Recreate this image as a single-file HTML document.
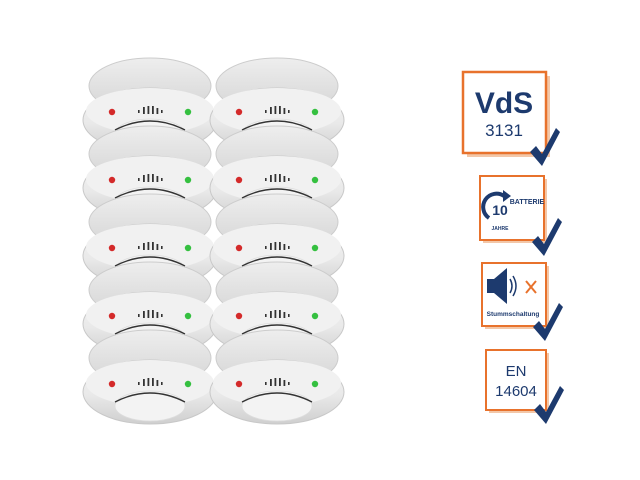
<!DOCTYPE html>
<html><head><meta charset="utf-8"><style>
html,body{margin:0;padding:0;background:#fff;}
svg{display:block}
</style></head><body>
<svg width="640" height="480" viewBox="0 0 640 480" xmlns="http://www.w3.org/2000/svg">
<defs>
<linearGradient id="body" x1="0" y1="0" x2="0" y2="1">
<stop offset="0" stop-color="#f4f4f4"/><stop offset="0.55" stop-color="#e9e9e9"/><stop offset="1" stop-color="#cfcfcf"/>
</linearGradient>
<linearGradient id="cap" x1="0" y1="0" x2="0" y2="1">
<stop offset="0" stop-color="#eeeeee"/><stop offset="1" stop-color="#d4d4d4"/>
</linearGradient>
<g id="det">
<ellipse cx="0" cy="-26" rx="61" ry="28" fill="url(#cap)" stroke="#cccccc" stroke-width="1"/>
<ellipse cx="0" cy="8" rx="67" ry="32" fill="url(#body)" stroke="#c8c8c8" stroke-width="1"/>
<ellipse cx="0" cy="-1" rx="64" ry="23" fill="#f1f1f1"/>
<ellipse cx="0" cy="22" rx="35" ry="15" fill="#f3f3f3" stroke="#dddddd" stroke-width="0.8"/>
<path d="M-35 18 Q0 0 35 18" fill="none" stroke="#333" stroke-width="1.4"/>
<circle cx="-38" cy="0" r="3.2" fill="#d42a2a"/>
<circle cx="38" cy="0" r="3.2" fill="#35c040"/>
<g fill="#333">
<rect x="-12" y="-2" width="1.6" height="3"/><rect x="-7" y="-5" width="1.8" height="7"/>
<rect x="-2.5" y="-6" width="1.8" height="8"/><rect x="2" y="-6" width="1.8" height="8"/>
<rect x="6.5" y="-4" width="1.8" height="6"/><rect x="11" y="-2" width="1.6" height="3"/>
</g>
</g>
<path id="chk" d="M0 0 L6 -6 L12 2 L26 -24 L30 -20 L12 14 Z" fill="#1d3a6e"/>
</defs>

<use href="#det" x="150" y="112"/><use href="#det" x="277" y="112"/>
<use href="#det" x="150" y="180"/><use href="#det" x="277" y="180"/>
<use href="#det" x="150" y="248"/><use href="#det" x="277" y="248"/>
<use href="#det" x="150" y="316"/><use href="#det" x="277" y="316"/>
<use href="#det" x="150" y="384"/><use href="#det" x="277" y="384"/>

<!-- badge 1 -->
<rect x="467" y="76" width="83" height="81" fill="#f3c7a8"/>
<rect x="463" y="72" width="83" height="81" fill="#fff" stroke="#e8722c" stroke-width="2.5"/>
<text x="504" y="113" text-anchor="middle" font-family="Liberation Sans,sans-serif" font-weight="bold" font-size="30" fill="#1d3a6e">VdS</text>
<text x="504" y="136" text-anchor="middle" font-family="Liberation Sans,sans-serif" font-size="17" fill="#1d3a6e">3131</text>
<use href="#chk" x="530" y="152"/>

<!-- badge 2 -->
<rect x="483" y="179" width="64" height="64" fill="#f3c7a8"/>
<rect x="480" y="176" width="64" height="64" fill="#fff" stroke="#e8722c" stroke-width="2"/>
<path d="M489 218 A12 12 0 0 1 504 196" fill="none" stroke="#1d3a6e" stroke-width="4"/>
<path d="M503 190 L511 196 L503 202 Z" fill="#1d3a6e"/>
<text x="500" y="215" text-anchor="middle" font-family="Liberation Sans,sans-serif" font-weight="bold" font-size="14" fill="#1d3a6e">10</text>
<text x="527" y="204" text-anchor="middle" font-family="Liberation Sans,sans-serif" font-weight="bold" font-size="7" fill="#1d3a6e">BATTERIE</text>
<text x="500" y="230" text-anchor="middle" font-family="Liberation Sans,sans-serif" font-weight="bold" font-size="5" fill="#1d3a6e">JAHRE</text>
<use href="#chk" x="532" y="242"/>

<!-- badge 3 -->
<rect x="485" y="266" width="64" height="63" fill="#f3c7a8"/>
<rect x="482" y="263" width="64" height="63" fill="#fff" stroke="#e8722c" stroke-width="2"/>
<rect x="487" y="279" width="8" height="14" fill="#1d3a6e"/>
<path d="M494 279 L507 268 L507 304 L494 293 Z" fill="#1d3a6e"/>
<path d="M510 279 Q514 286 510 293 M513 276 Q519 286 513 296" fill="none" stroke="#1d3a6e" stroke-width="1.5"/>
<path d="M526 281 L536 293 M536 281 L526 293" stroke="#e8722c" stroke-width="2"/>
<text x="513" y="316" text-anchor="middle" font-family="Liberation Sans,sans-serif" font-weight="bold" font-size="6.5" fill="#1d3a6e">Stummschaltung</text>
<use href="#chk" x="533" y="327"/>

<!-- badge 4 -->
<rect x="489" y="353" width="60" height="60" fill="#f3c7a8"/>
<rect x="486" y="350" width="60" height="60" fill="#fff" stroke="#e8722c" stroke-width="2"/>
<text x="516" y="376" text-anchor="middle" font-family="Liberation Sans,sans-serif" font-size="15" fill="#1d3a6e">EN</text>
<text x="516" y="396" text-anchor="middle" font-family="Liberation Sans,sans-serif" font-size="15" fill="#1d3a6e">14604</text>
<use href="#chk" x="534" y="410"/>
</svg>
</body></html>
